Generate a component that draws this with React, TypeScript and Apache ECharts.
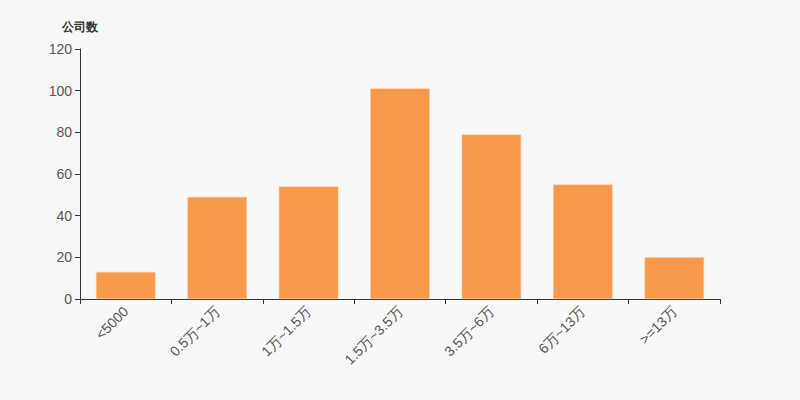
import React, { useEffect, useRef } from "react";
import * as echarts from "echarts";

const categories = ["<5000", "0.5万~1万", "1万~1.5万", "1.5万~3.5万", "3.5万~6万", "6万~13万", ">=13万"];
const companyCounts = [13, 49, 54, 101, 79, 55, 20];
const yAxisName = "公司数";

export default function App() {
  const ref = useRef<HTMLDivElement>(null);
  useEffect(() => {
    if (!ref.current) return;
    const chart = echarts.init(ref.current, undefined, { renderer: "svg" });
    chart.setOption({
      animation: false,
      backgroundColor: "#f8f8f8",
      grid: { left: 80, right: 80, top: 49, bottom: 101 },
      xAxis: {
        type: "category",
        data: categories,
        axisLine: { lineStyle: { color: "#333" } },
        axisTick: { show: true, length: 5, lineStyle: { color: "#333" } },
        axisLabel: { rotate: 45, color: "#555", fontSize: 14, margin: 10, fontFamily: "sans-serif" },
      },
      yAxis: {
        type: "value",
        min: 0,
        max: 120,
        interval: 20,
        name: yAxisName,
        nameGap: 16,
        nameTextStyle: { color: "#333", fontWeight: "bold", fontSize: 12, fontFamily: "sans-serif" },
        axisLine: { show: true, lineStyle: { color: "#333" } },
        axisTick: { show: true, lineStyle: { color: "#333" } },
        axisLabel: { color: "#555", fontSize: 14, fontFamily: "sans-serif" },
        splitLine: { show: false },
      },
      series: [
        {
          type: "bar",
          data: companyCounts,
          barWidth: "65%",
          itemStyle: { color: "#f8994a", borderColor: "#fbc79b", borderWidth: 0.5 },
        },
      ],
    });
    return () => chart.dispose();
  }, []);
  return <div ref={ref} style={{ width: 800, height: 400, position: "absolute", left: 0, top: 0 }} />;
}
